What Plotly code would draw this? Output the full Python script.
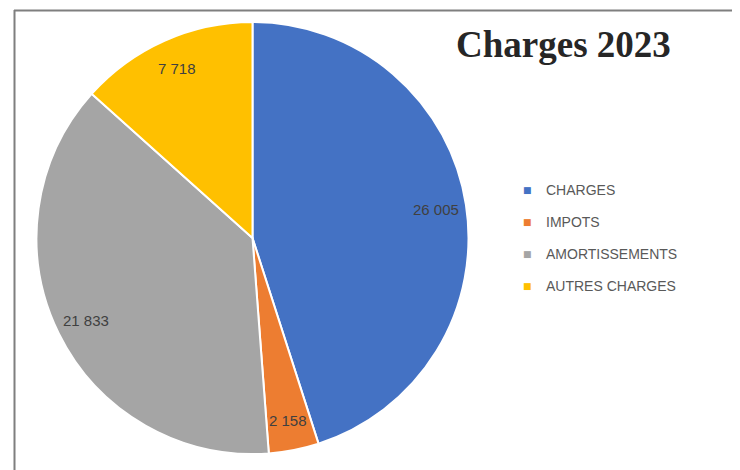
import math
import plotly.graph_objects as go

labels = ["CHARGES", "IMPOTS", "AMORTISSEMENTS", "AUTRES CHARGES"]
values = [26005, 2158, 21833, 7718]
colors = ["#4472C4", "#ED7D31", "#A5A5A5", "#FFC000"]
title_text = "Charges 2023"

W, H = 740, 470
# pie domain in pixels (left, right, bottom, top measured from bottom)
PX0, PX1, PY0, PY1 = 28, 461, 24, 456

fig = go.Figure()
fig.add_trace(go.Pie(
    labels=labels,
    values=values,
    sort=False,
    direction="clockwise",
    rotation=0,
    marker=dict(colors=colors, line=dict(color="white", width=2)),
    textinfo="none",
    domain=dict(x=[PX0 / W, PX1 / W], y=[PY0 / H, PY1 / H]),
    showlegend=False,
    hoverinfo="label+value+percent",
))

# data labels placed near the rim, derived from the slice values
total = sum(values)
cx = (PX0 + PX1) / 2
cy = (PY0 + PY1) / 2
R = min(PX1 - PX0, PY1 - PY0) / 2
k = 0.86
cum = 0
for v in values:
    theta = 2 * math.pi * (cum + v / 2) / total
    cum += v
    lx = cx + k * R * math.sin(theta)
    ly = cy + k * R * math.cos(theta)
    fig.add_annotation(x=lx / W, y=ly / H, xref="paper", yref="paper",
                       text=f"{v:,}".replace(",", " "), showarrow=False,
                       xanchor="center", yanchor="middle",
                       font=dict(family="Liberation Sans", size=15, color="#404040"))

# legend built from labels/colors
leg_y0 = 1 - 182 / H
leg_step = 32 / H
for i, (lab, col) in enumerate(zip(labels, colors)):
    y = leg_y0 - i * leg_step
    fig.add_annotation(x=519 / W, y=y, xref="paper", yref="paper",
                       text="■", showarrow=False, xanchor="center", yanchor="middle",
                       font=dict(family="DejaVu Sans", size=9, color=col))
    fig.add_annotation(x=536 / W, y=y, xref="paper", yref="paper",
                       text=lab, showarrow=False, xanchor="left", yanchor="middle",
                       font=dict(family="Liberation Sans", size=14, color="#595959"))

fig.add_annotation(x=555 / W, y=1 - 37 / H, xref="paper", yref="paper",
                   text="<b>" + title_text + "</b>", showarrow=False,
                   xanchor="center", yanchor="middle",
                   font=dict(family="Liberation Serif", size=37, color="#262626"))

# frame lines
fig.add_shape(type="line", xref="paper", yref="paper", x0=6 / W, x1=1, y0=1 - 2.5 / H, y1=1 - 2.5 / H,
              line=dict(color="#7f7f7f", width=2))
fig.add_shape(type="line", xref="paper", yref="paper", x0=6.5 / W, x1=6.5 / W, y0=0, y1=1 - 2 / H,
              line=dict(color="#7f7f7f", width=2))

fig.update_layout(
    width=W, height=H,
    margin=dict(l=0, r=0, t=0, b=0),
    paper_bgcolor="white", plot_bgcolor="white",
    separators=", ",
)

fig.write_html("out.html")
